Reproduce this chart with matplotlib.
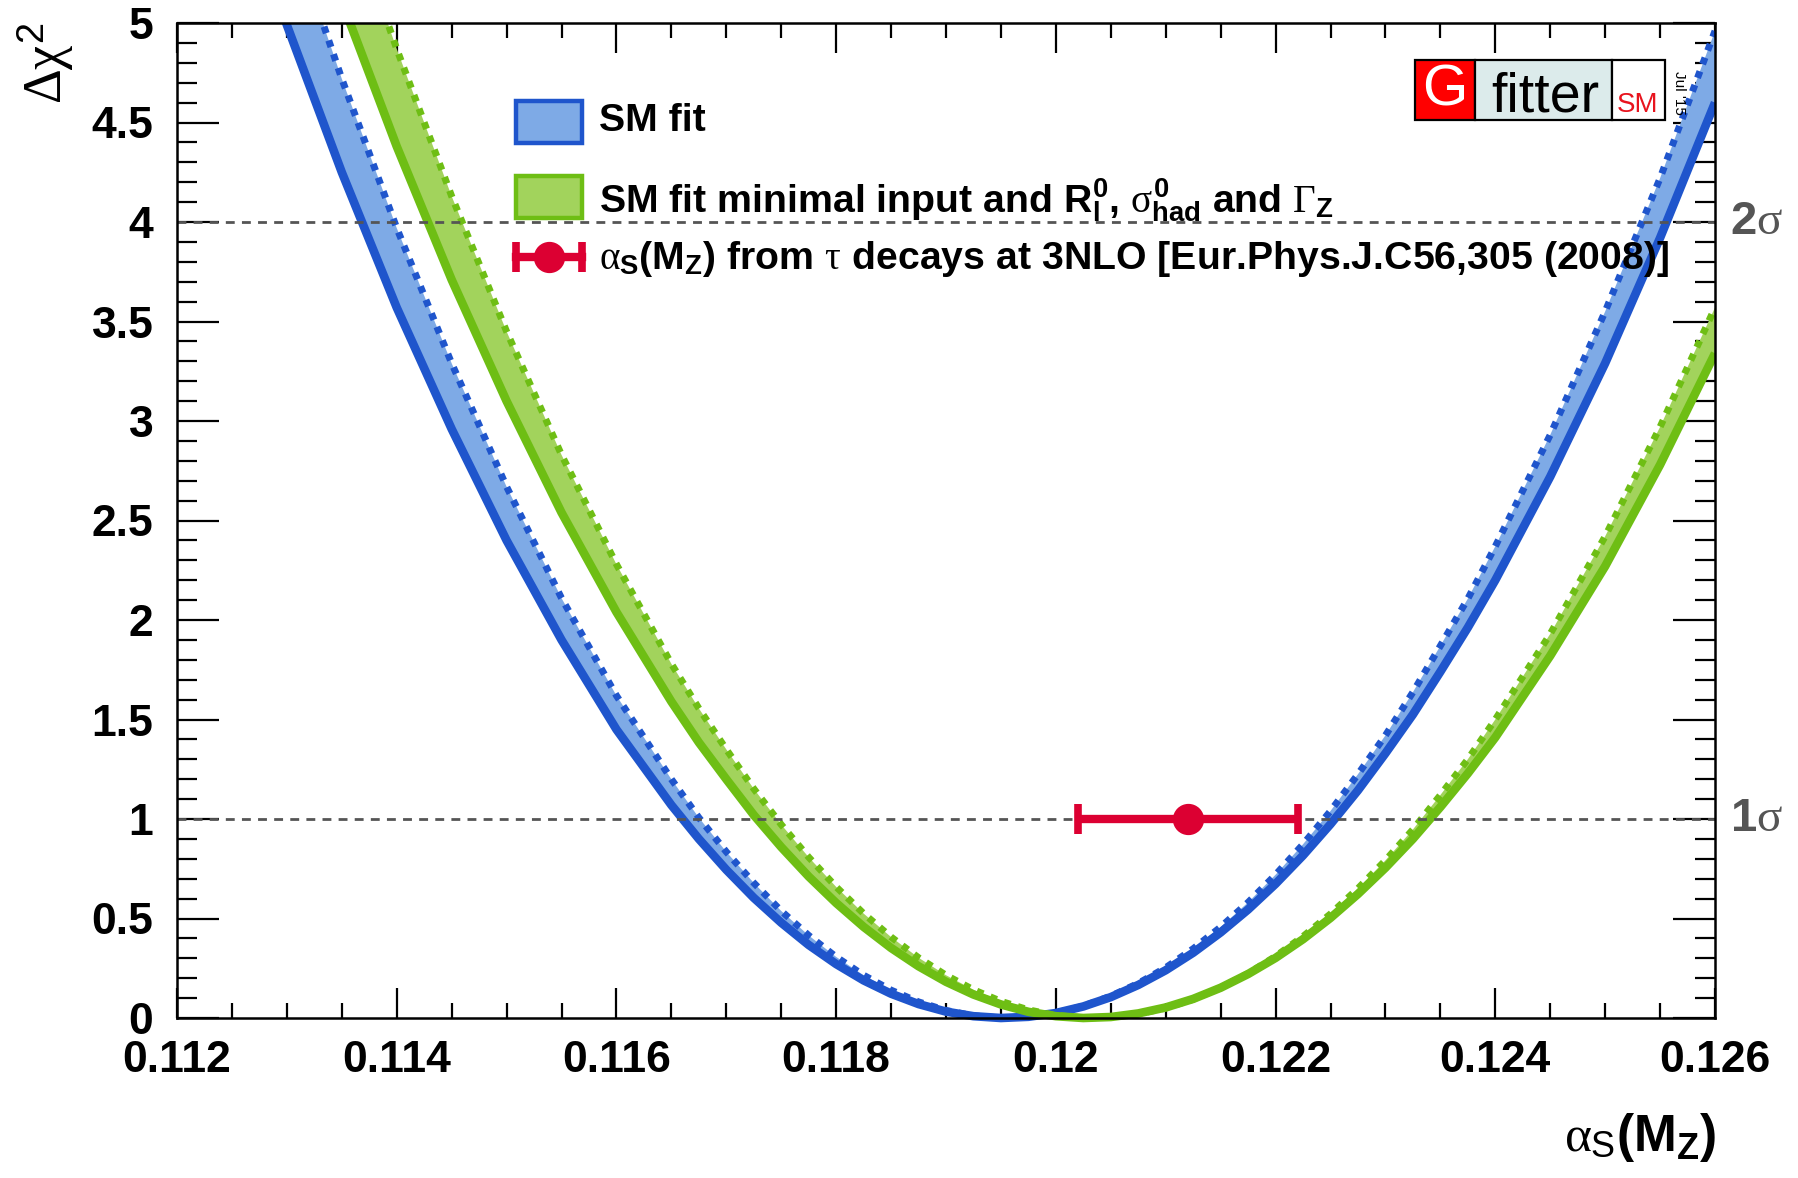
import matplotlib
matplotlib.use("Agg")
import matplotlib.pyplot as plt
from matplotlib import font_manager
from matplotlib.patches import Rectangle
from matplotlib.lines import Line2D
from matplotlib.ticker import MultipleLocator

alphas = [0.1120, 0.1125, 0.1130, 0.1135, 0.1140, 0.1145, 0.1150, 0.1155,
          0.1160, 0.1165, 0.11675, 0.1170, 0.11725, 0.1175, 0.11775, 0.1180,
          0.11825, 0.1185, 0.11875, 0.1190, 0.11925, 0.1195, 0.11975, 0.1200,
          0.12025, 0.1205, 0.12075, 0.1210, 0.12125, 0.1215, 0.12175, 0.1220,
          0.12225, 0.1225, 0.12275, 0.1230, 0.12325, 0.1235, 0.12375, 0.1240,
          0.1245, 0.1250, 0.1255, 0.1260]

# SM fit (solid = with theory errors, dotted = without)
sm_solid = [6.63, 5.78, 4.99, 4.25, 3.57, 2.96, 2.40, 1.90,
            1.45, 1.07, 0.900, 0.745, 0.604, 0.479, 0.367, 0.271,
            0.189, 0.122, 0.070, 0.032, 0.009, 0.000, 0.006, 0.025,
            0.058, 0.105, 0.166, 0.240, 0.328, 0.430, 0.545, 0.674,
            0.817, 0.974, 1.144, 1.33, 1.525, 1.74, 1.962, 2.20,
            2.72, 3.29, 3.92, 4.60]
sm_dotted = [7.36, 6.41, 5.53, 4.72, 3.97, 3.29, 2.67, 2.11,
             1.62, 1.20, 1.007, 0.835, 0.679, 0.538, 0.415, 0.307,
             0.215, 0.140, 0.081, 0.038, 0.011, 0.000, 0.005, 0.025,
             0.060, 0.110, 0.174, 0.253, 0.348, 0.457, 0.581, 0.720,
             0.873, 1.04, 1.225, 1.42, 1.637, 1.87, 2.107, 2.37,
             2.93, 3.55, 4.22, 4.96]

# SM fit minimal input + R0l, sigma0had, Gamma_Z
min_solid = [7.62, 6.73, 5.89, 5.11, 4.38, 3.71, 3.10, 2.54,
             2.04, 1.59, 1.385, 1.20, 1.020, 0.859, 0.711, 0.578,
             0.458, 0.352, 0.260, 0.182, 0.118, 0.068, 0.031, 0.009,
             0.000, 0.005, 0.023, 0.053, 0.096, 0.152, 0.221, 0.302,
             0.396, 0.503, 0.623, 0.755, 0.900, 1.06, 1.229, 1.41,
             1.82, 2.27, 2.78, 3.34]
min_dotted = [8.42, 7.44, 6.52, 5.66, 4.87, 4.13, 3.45, 2.83,
              2.28, 1.78, 1.556, 1.35, 1.152, 0.972, 0.808, 0.659,
              0.525, 0.407, 0.303, 0.215, 0.142, 0.084, 0.041, 0.013,
              0.001, 0.003, 0.020, 0.050, 0.094, 0.152, 0.224, 0.310,
              0.410, 0.523, 0.651, 0.792, 0.947, 1.12, 1.300, 1.50,
              1.93, 2.42, 2.97, 3.57]

# alpha_s from tau decays
tau_val = 0.1212
tau_err = 0.0010
tau_chi2 = 1.0

sigma_chi2 = [1, 4]
sigma_names = ["1", "2"]

xticks = [0.112, 0.114, 0.116, 0.118, 0.120, 0.122, 0.124, 0.126]
xticklabels = ["0.112", "0.114", "0.116", "0.118", "0.12", "0.122", "0.124", "0.126"]
yticks = [0, 0.5, 1, 1.5, 2, 2.5, 3, 3.5, 4, 4.5, 5]
yticklabels = ["0", "0.5", "1", "1.5", "2", "2.5", "3", "3.5", "4", "4.5", "5"]

blue_line = "#1f55cc"
blue_fill = "#7eaae6"
green_line = "#6ebe14"
green_fill = "#a2d35c"
red = "#dc0032"
grey = "#555555"

# narrow bold font for the legend if it is there
try:
    font_manager.findfont(font_manager.FontProperties(family="Liberation Sans Narrow", weight="bold"),
                          fallback_to_default=False)
    leg_family = "Liberation Sans Narrow"
    leg_size = 33
except Exception:
    leg_family = "Liberation Sans"
    leg_size = 28.3

plt.rcParams["font.family"] = "Liberation Sans"
plt.rcParams["font.weight"] = "normal"
plt.rcParams["mathtext.fontset"] = "custom"
plt.rcParams["mathtext.rm"] = "Liberation Serif"
plt.rcParams["mathtext.it"] = "Liberation Serif"
plt.rcParams["mathtext.bf"] = "Liberation Sans:bold"
plt.rcParams["mathtext.sf"] = "Liberation Sans"
plt.rcParams["mathtext.cal"] = leg_family + ":bold"

W, H = 1799, 1178
fig = plt.figure(figsize=(W / 100, H / 100), dpi=100)
ax = fig.add_axes([177 / W, 1 - 1018 / H, 1538 / W, 995 / H])

clip = Rectangle((0, -0.012), 1, 1.012, transform=ax.transAxes, visible=False)
ax.add_patch(clip)

# bands
for solid, dotted, lc, fc in [(sm_solid, sm_dotted, blue_line, blue_fill),
                              (min_solid, min_dotted, green_line, green_fill)]:
    ax.fill_between(alphas, solid, dotted, color=fc, lw=0, zorder=2)
    l1, = ax.plot(alphas, solid, color=lc, lw=6.2, solid_capstyle="butt",
                  solid_joinstyle="round", zorder=3)
    l2, = ax.plot(alphas, dotted, color=lc, lw=5.0, linestyle=(0, (1, 1.1)),
                  dash_capstyle="butt", zorder=3)
    l1.set_clip_path(clip)
    l2.set_clip_path(clip)

# 1 and 2 sigma lines
for c, nm in zip(sigma_chi2, sigma_names):
    ax.axhline(c, color=grey, lw=2.0, linestyle=(0, (3.2, 2.6)), zorder=4)
    ax.text(1.010, c, r"$\mathbf{%s}\sigma$" % nm, transform=ax.get_yaxis_transform(),
            ha="left", va="center", fontsize=34, color=grey)

ax.errorbar([tau_val], [tau_chi2], xerr=[tau_err], fmt="o", color=red, ms=21.5,
            elinewidth=6, capsize=10.8, capthick=5.5, zorder=6)

ax.set_xlim(0.112, 0.126)
ax.set_ylim(0, 5)
ax.set_xticks(xticks)
ax.set_xticklabels(xticklabels, fontweight="bold")
ax.set_yticks(yticks)
ax.set_yticklabels(yticklabels, fontweight="bold")
ax.xaxis.set_minor_locator(MultipleLocator(0.0005))
ax.yaxis.set_minor_locator(MultipleLocator(0.1))
ax.tick_params(which="both", direction="in", top=True, right=True, width=1.6, labelsize=32)
ax.tick_params(axis="x", which="major", length=21.6, pad=15.5)
ax.tick_params(axis="x", which="minor", length=10.8)
ax.tick_params(axis="y", which="major", length=30, pad=17)
ax.tick_params(axis="y", which="minor", length=14.4)
for sp in ax.spines.values():
    sp.set_linewidth(1.8)
    sp.set_zorder(7)

# axis titles
fig.text(1716 / W, 1 - 1138 / H, r"$\alpha_{\mathsf{S}}\mathbf{(M_{Z})}$", ha="right",
         va="center", fontsize=37)
fig.text(46 / W, 1 - 22 / H, r"$\Delta\chi^{\mathsf{2}}$", rotation=90, ha="center",
         va="top", fontsize=39)

# legend
def ax_x(px):
    return (px - 177) / 1538


def ax_y(py):
    return (1018 - py) / 995


bx0, bx1 = ax_x(516), ax_x(582)
for (top, bot), lc, fc in [((101, 143), blue_line, blue_fill), ((176, 218), green_line, green_fill)]:
    ax.add_patch(Rectangle((bx0, ax_y(bot)), bx1 - bx0, ax_y(top) - ax_y(bot),
                           transform=ax.transAxes, facecolor=fc, edgecolor=lc, lw=3.2,
                           zorder=8, clip_on=False))
ry = ax_y(257)
ax.add_line(Line2D([bx0, bx1], [ry, ry], transform=ax.transAxes, color=red, lw=6, zorder=8))
ax.add_line(Line2D([bx0, bx1], [ry, ry], transform=ax.transAxes, color=red, lw=0,
                   marker="|", ms=21.6, mew=5.5, zorder=8))
ax.add_line(Line2D([(bx0 + bx1) / 2], [ry], transform=ax.transAxes, color=red, lw=0,
                   marker="o", ms=21.5, zorder=8))

tx = ax_x(599)
lkw = dict(transform=ax.transAxes, ha="left", va="center", fontsize=leg_size,
           family=leg_family, fontweight="bold", zorder=9)
ax.text(tx, ax_y(121), "SM fit", **lkw)
ax.text(tx, ax_y(200),
        r"SM fit minimal input and $\mathcal{R}^{\mathcal{0}}_{\mathcal{l}}$, "
        r"$\sigma^{\mathcal{0}}_{\mathcal{had}}$ and $\Gamma_{\mathcal{Z}}$", **lkw)
ax.text(tx, ax_y(259),
        r"$\alpha_{\mathcal{S}}\mathcal{(M}_{\mathcal{Z}}\mathcal{)}$ from $\tau$ decays at "
        r"3NLO [Eur.Phys.J.C56,305 (2008)]", **lkw)

# Gfitter logo
def fx(px):
    return px / W


def fy(py):
    return 1 - py / H


for x0, x1, col in [(1415, 1475, "#ff0000"), (1475, 1612, "#dcebeb"), (1612, 1665, "white")]:
    fig.patches.append(Rectangle((fx(x0), fy(120)), fx(x1) - fx(x0), fy(60) - fy(120),
                                 transform=fig.transFigure, facecolor=col, edgecolor="black",
                                 lw=1.6, zorder=10))
fig.text(fx(1445), fy(90), "G", color="white", fontsize=42,
         ha="center", va="center", zorder=11)
fig.text(fx(1545), fy(111), "fitter", color="black", fontsize=40,
         ha="center", va="baseline", zorder=11)
fig.text(fx(1638), fy(112), "SM", color="#e8141e", fontsize=20,
         ha="center", va="baseline", zorder=11)
fig.text(fx(1679), fy(93), "Jul '15", color="black", fontsize=11,
         rotation=-90, ha="center", va="center", zorder=11)

fig.savefig("out.png", dpi=100)
